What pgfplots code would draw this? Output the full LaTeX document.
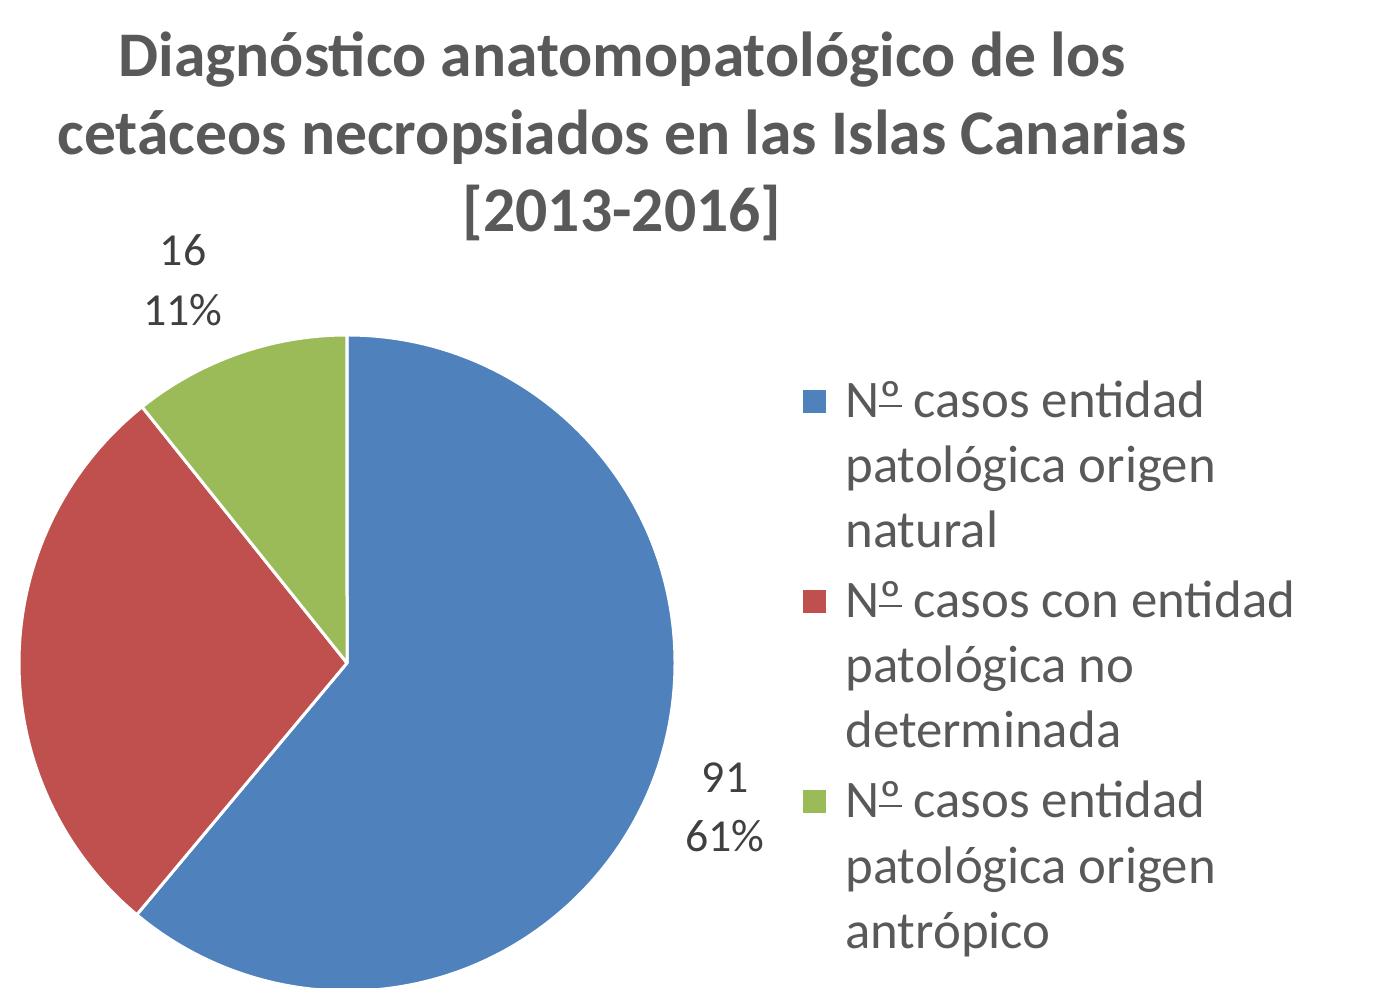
\documentclass[border=0pt]{standalone}
\usepackage{pgfplots}
\pgfplotsset{compat=1.18}
\usepackage{pgfplotstable}
\usepackage{fontspec}
\setmainfont{Carlito}
\definecolor{pieblue}{HTML}{4F81BD}
\definecolor{piered}{HTML}{C0504D}
\definecolor{piegreen}{HTML}{9BBB59}
\definecolor{titlegray}{HTML}{595959}
\definecolor{labgray}{HTML}{404040}
\newcommand\ordo{\leavevmode\setbox0\hbox{º}\rlap{\rule[0.2em]{\wd0}{0.045em}}\box0}
\pgfplotstableread{
value
91
42
16
}\piedata
\begin{document}
\begin{tikzpicture}
\pgfplotstablegetelem{0}{value}\of\piedata \edef\va{\pgfplotsretval}
\pgfplotstablegetelem{1}{value}\of\piedata \edef\vb{\pgfplotsretval}
\pgfplotstablegetelem{2}{value}\of\piedata \edef\vc{\pgfplotsretval}
\pgfmathsetmacro\tot{\va+\vb+\vc}
\pgfmathsetmacro\aA{90-360*(\va/\tot)}
\pgfmathsetmacro\aB{\aA-360*(\vb/\tot)}
\pgfmathsetmacro\aC{\aB-360*(\vc/\tot)}
\pgfmathtruncatemacro\pA{round(100*(\va/\tot))}
\pgfmathtruncatemacro\pC{round(100*(\vc/\tot))}
\begin{axis}[
  scale only axis, width=687pt, height=494pt,
  xmin=0, xmax=1374, ymin=0, ymax=988,
  hide axis, clip=true,
]
\addplot[draw=none] coordinates {(0,0) (1374,988)};
% slices
\fill[pieblue, draw=white, line width=1.5pt, line join=round] (axis cs:347,325) -- ++(90:164pt) arc[start angle=90, end angle=\aA, radius=164pt] -- cycle;
\fill[piered, draw=white, line width=1.5pt, line join=round] (axis cs:347,325) -- ++(\aA:164pt) arc[start angle=\aA, end angle=\aB, radius=164pt] -- cycle;
\fill[piegreen, draw=white, line width=1.5pt, line join=round] (axis cs:347,325) -- ++(\aB:164pt) arc[start angle=\aB, end angle=\aC, radius=164pt] -- cycle;
% title
\begin{scope}[every node/.style={font=\bfseries\fontsize{31.8pt}{39pt}\selectfont, text=titlegray, anchor=base, inner sep=0pt}]
\node at (axis cs:622,911) {Diagnóstico anatomopatológico de los};
\node at (axis cs:622,833) {cetáceos necropsiados en las Islas Canarias};
\node at (axis cs:622,756) {[2013-2016]};
\end{scope}
% data labels
\begin{scope}[every node/.style={font=\fontsize{22.9pt}{30pt}\selectfont, text=labgray, anchor=base, inner sep=0pt}]
\node at (axis cs:183,722) {\vc};
\node at (axis cs:183,662) {\pC\%};
\node at (axis cs:725,195) {\va};
\node at (axis cs:725,136) {\pA\%};
\end{scope}
% legend
\fill[pieblue] (axis cs:803,575) rectangle (axis cs:826,598);
\fill[piered] (axis cs:803,375) rectangle (axis cs:826,398);
\fill[piegreen] (axis cs:803,175) rectangle (axis cs:826,198);
\begin{scope}[every node/.style={font=\fontsize{26.4pt}{32.5pt}\selectfont, text=titlegray, anchor=base west, inner sep=0pt}]
\node at (axis cs:845,570) {N\ordo\ casos entidad};
\node at (axis cs:845,505) {patológica origen};
\node at (axis cs:845,440) {natural};
\node at (axis cs:845,370) {N\ordo\ casos con entidad};
\node at (axis cs:845,305) {patológica no};
\node at (axis cs:845,240) {determinada};
\node at (axis cs:845,170) {N\ordo\ casos entidad};
\node at (axis cs:845,104) {patológica origen};
\node at (axis cs:845,39) {antrópico};
\end{scope}
\end{axis}
\pgfresetboundingbox
\path[use as bounding box] (current axis.south west) rectangle (current axis.north east);
\end{tikzpicture}
\end{document}
